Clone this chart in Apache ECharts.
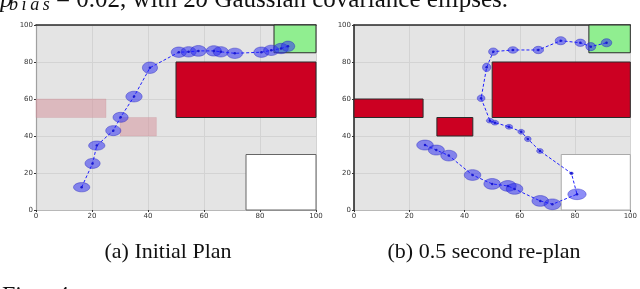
<!DOCTYPE html>
<html><head><meta charset="utf-8">
<script src="https://cdn.jsdelivr.net/npm/echarts@6/dist/echarts.min.js"></script>
<style>html,body{margin:0;padding:0;background:#fff}#c{width:640px;height:289px}</style>
</head><body><div id="c"></div>
<script>
// ---- data ----
const xTicks = [0, 20, 40, 60, 80, 100];
const yTicks = [0, 20, 40, 60, 80, 100];
const captions = ['(a) Initial Plan', '(b) 0.5 second re-plan'];
// obstacles [x0, y0, x1, y1]
const unknownObstaclesA = [[0, 50, 25, 60], [30, 40, 43, 50]];
const knownObstaclesA = [[50, 50, 100, 80]];
const knownObstaclesB = [[0, 50, 25, 60], [30, 40, 43, 50], [50, 50, 100, 80]];
const goalRegion = [[85, 85, 100, 100]];
const freeRegion = [[75, 0, 100, 30]];
// path points [x, y] and 2-sigma ellipse semi-axes [rx, ry]
const pathA = [[16.3,12.3],[20.2,25.2],[21.7,34.8],[27.6,42.9],[30.2,50.1],[35.0,61.3],[40.7,76.9],
  [51.0,85.3],[54.5,85.5],[58.0,86.0],[63.5,86.0],[66.0,85.5],[71.0,84.7],[80.5,85.3],[84.0,86.3],[87.5,87.3],[90.0,88.5]];
const sigmaA = [[2.9,2.5],[2.7,2.7],[2.9,2.5],[2.7,2.7],[2.7,2.7],[2.9,2.9],[2.7,3.1],
  [2.7,2.8],[2.7,2.8],[2.8,2.9],[2.7,2.8],[2.7,2.8],[2.8,2.8],[2.7,2.8],[2.7,2.8],[2.6,2.8],[2.4,2.8]];
const pathB = [[25.7,35.1],[29.8,32.4],[34.3,29.4],[42.9,18.9],[50.0,14.1],[55.7,13.0],[58.1,11.4],[67.4,4.9],[71.8,3.1],
  [80.7,8.5],[78.7,19.8],[67.3,31.9],[62.9,38.4],[60.5,42.3],[56.1,45.0],[51.0,47.2],[49.2,48.3],[46.0,60.4],[48.0,77.1],
  [50.4,85.6],[57.5,86.5],[66.7,86.5],[74.8,91.5],[81.9,90.4],[85.7,88.3],[91.4,90.4]];
const sigmaB = [[3.0,2.7],[2.9,2.7],[2.9,2.9],[3.0,2.9],[3.0,2.9],[3.0,2.9],[3.0,2.9],[3.0,2.9],[3.0,2.9],
  [3.3,2.9],[0.7,0.7],[1.2,1.3],[1.2,1.4],[1.2,1.3],[1.3,1.3],[1.3,1.3],[1.3,1.3],[1.4,1.8],[1.5,2.3],
  [1.7,2.0],[1.8,1.8],[1.9,2.0],[2.0,2.2],[1.9,2.0],[1.8,2.2],[1.9,2.2]];

// ---- chart ----
const chart = echarts.init(document.getElementById('c'), null, {renderer: 'canvas'});

function rectSeries(data, idx, fill, stroke, lw, z) {
  return {
    type: 'custom', xAxisIndex: idx, yAxisIndex: idx, z: z, silent: true,
    data: data, encode: {x: [0, 2], y: [1, 3]},
    renderItem: function (params, api) {
      const p0 = api.coord([api.value(0), api.value(3)]);
      const p1 = api.coord([api.value(2), api.value(1)]);
      return {type: 'rect', shape: {x: p0[0], y: p0[1], width: p1[0] - p0[0], height: p1[1] - p0[1]},
        style: {fill: fill, stroke: stroke, lineWidth: lw}};
    }
  };
}
function ellipseSeries(path, sig, idx) {
  const data = path.map((p, i) => [p[0], p[1], sig[i][0], sig[i][1]]);
  return {
    type: 'custom', xAxisIndex: idx, yAxisIndex: idx, z: 5, silent: true,
    data: data, encode: {x: 0, y: 1},
    renderItem: function (params, api) {
      const c = api.coord([api.value(0), api.value(1)]);
      const s = api.size([api.value(2), api.value(3)]);
      return {type: 'ellipse', shape: {cx: c[0], cy: c[1], rx: s[0], ry: s[1]},
        style: {fill: 'rgba(50,50,240,0.55)', stroke: 'rgba(30,30,190,0.5)', lineWidth: 0.8}};
    }
  };
}
function lineSeries(path, idx) {
  return {
    type: 'line', xAxisIndex: idx, yAxisIndex: idx, z: 6, silent: true,
    data: path, symbol: 'circle', symbolSize: 2.5, animation: false,
    itemStyle: {color: '#1a1ad0'},
    lineStyle: {color: '#1f1fff', width: 1, type: [3, 2]}
  };
}
function xAxis(idx) {
  return {
    type: 'value', gridIndex: idx, min: xTicks[0], max: xTicks[xTicks.length - 1], interval: 20,
    axisLine: {show: true, lineStyle: {color: '#b8b8b8', width: 1}},
    axisTick: {show: true, length: 2, lineStyle: {color: '#333'}},
    axisLabel: {fontSize: 7, color: '#333', margin: 3, fontFamily: 'DejaVu Sans'},
    splitLine: {show: true, lineStyle: {color: '#d3d3d3', width: 1}}
  };
}
function topAxis(idx) {
  return {
    type: 'value', gridIndex: idx, position: 'top', min: 0, max: 100,
    axisLine: {show: true, onZero: false, lineStyle: {color: '#2a2a2a', width: 1.6}},
    axisTick: {show: false}, axisLabel: {show: false}, splitLine: {show: false}
  };
}
function yAxis(idx, lineColor, lw) {
  return {
    type: 'value', gridIndex: idx, min: yTicks[0], max: yTicks[yTicks.length - 1], interval: 20,
    axisLine: {show: true, lineStyle: {color: lineColor, width: lw}},
    axisTick: {show: true, length: 2, lineStyle: {color: '#333'}},
    axisLabel: {fontSize: 7, color: '#333', margin: 3, fontFamily: 'DejaVu Sans'},
    splitLine: {show: true, lineStyle: {color: '#d3d3d3', width: 1}}
  };
}

const serif = '"Liberation Serif", "Times New Roman", serif';
const option = {
  animation: false,
  backgroundColor: '#ffffff',
  grid: [
    {left: 36, top: 25, width: 280, height: 185, show: true, backgroundColor: '#e4e4e4', borderWidth: 0},
    {left: 354, top: 25, width: 280, height: 185, show: true, backgroundColor: '#e4e4e4', borderWidth: 0}
  ],
  xAxis: [xAxis(0), xAxis(1), topAxis(0), topAxis(1)],
  yAxis: [yAxis(0, '#a0a0a0', 1.2), yAxis(1, '#2a2a2a', 1.6)],
  series: [
    rectSeries(freeRegion, 0, '#ffffff', '#666', 1, 1),
    rectSeries(unknownObstaclesA, 0, 'rgba(214,150,158,0.55)', 'rgba(200,140,150,0.4)', 0.6, 2),
    rectSeries(knownObstaclesA, 0, '#cc0022', '#2b2b2b', 1, 2),
    rectSeries(goalRegion, 0, '#90ee90', '#2b2b2b', 1, 2),
    ellipseSeries(pathA, sigmaA, 0),
    lineSeries(pathA, 0),
    rectSeries(freeRegion, 1, '#ffffff', '#aaa', 1, 1),
    rectSeries(knownObstaclesB, 1, '#cc0022', '#2b2b2b', 1, 2),
    rectSeries(goalRegion, 1, '#90ee90', '#2b2b2b', 1, 2),
    ellipseSeries(pathB, sigmaB, 1),
    lineSeries(pathB, 1)
  ],
  graphic: [
    {type: 'text', x: 0, y: 0.2, style: {text: 'p', font: 'italic 25px ' + serif, fill: '#111', verticalAlign: 'middle'}},
    {type: 'text', x: 9, y: 5, style: {text: 'b\u2009i\u2009a\u2009s', font: 'italic 18px ' + serif, fill: '#111', verticalAlign: 'middle'}},
    {type: 'text', x: 56, y: 0.2, style: {
      text: '{n|= 0.02, with 2}{i|σ}{n| Gaussian covariance ellipses.}',
      rich: {n: {font: '25px ' + serif, fill: '#111'}, i: {font: 'italic 25px ' + serif, fill: '#111'}},
      verticalAlign: 'middle'}},
    {type: 'text', x: 168, y: 252.6, style: {text: captions[0], font: '22px ' + serif, fill: '#111', align: 'center', verticalAlign: 'middle'}},
    {type: 'text', x: 484, y: 252.6, style: {text: captions[1], font: '22px ' + serif, fill: '#111', align: 'center', verticalAlign: 'middle'}},
    {type: 'text', x: 2, y: 295.3, style: {text: 'Fig.', font: '24px ' + serif, fill: '#111', verticalAlign: 'middle'}},
    {type: 'text', x: 57, y: 295.3, style: {text: '4:', font: '24px ' + serif, fill: '#111', verticalAlign: 'middle'}}
  ]
};
chart.setOption(option);
</script>
</body></html>
